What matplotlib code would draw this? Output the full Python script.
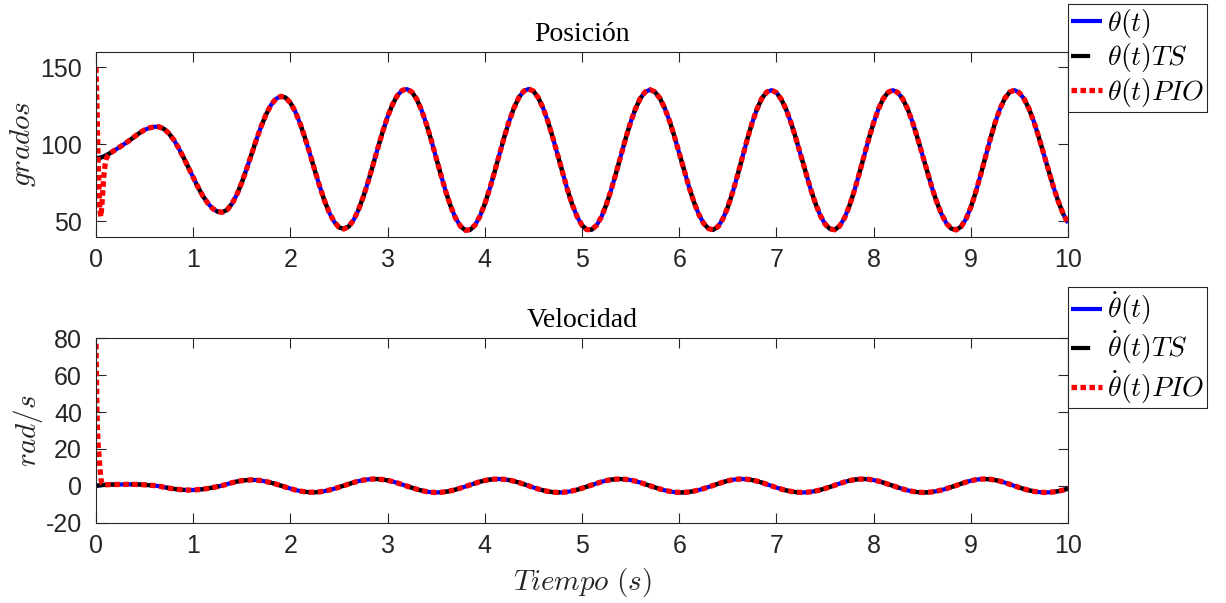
import numpy as np
import matplotlib
matplotlib.use("Agg")
import matplotlib.pyplot as plt

# ---------------- data ----------------
t = np.linspace(0, 10, 201)  # sample grid, 0.05 s

pos = [91.0, 91.4, 92.7, 94.5, 96.5, 98.5, 100.6, 102.8, 105.2, 107.5,
       109.4, 110.7, 111.4, 111.4, 110.0, 107.1, 102.9, 97.6, 91.5, 85.0,
       78.4, 72.1, 66.4, 61.8, 58.3, 56.3, 55.9, 57.5, 61.5, 67.5,
       75.2, 84.1, 93.5, 103.0, 111.8, 119.5, 125.5, 129.5, 131.2, 130.4,
       127.0, 121.3, 113.5, 104.2, 94.0, 83.3, 73.0, 63.5, 55.6, 49.7,
       46.1, 45.0, 46.6, 50.8, 57.4, 65.9, 75.8, 86.6, 97.7, 108.3,
       117.9, 125.8, 131.7, 135.1, 135.9, 134.0, 129.3, 122.1, 113.0, 102.5,
       91.1, 79.8, 69.0, 59.6, 52.0, 46.8, 44.2, 44.5, 47.6, 53.3,
       61.3, 71.1, 82.0, 93.4, 104.7, 114.9, 123.6, 130.4, 134.6, 136.0,
       134.6, 130.3, 123.6, 114.7, 104.3, 93.0, 81.5, 70.6, 60.8, 53.0,
       47.4, 44.6, 44.6, 47.4, 52.9, 60.8, 70.4, 81.3, 92.7, 104.0,
       114.3, 123.1, 129.9, 134.1, 135.5, 134.1, 130.1, 123.7, 115.3, 105.3,
       94.4, 83.3, 72.5, 62.8, 54.7, 48.8, 45.3, 44.5, 46.6, 51.6,
       59.2, 68.8, 79.9, 91.6, 103.2, 113.9, 122.9, 129.8, 134.0, 135.2,
       133.6, 129.3, 122.7, 114.1, 104.0, 93.1, 82.0, 71.4, 61.9, 54.0,
       48.3, 45.1, 44.5, 46.9, 52.1, 59.8, 69.5, 80.4, 92.0, 103.5,
       114.0, 123.0, 129.8, 133.9, 135.2, 133.6, 129.5, 123.0, 114.5, 104.5,
       93.7, 82.7, 72.0, 62.4, 54.5, 48.6, 45.2, 44.4, 46.5, 51.5,
       59.1, 68.8, 79.9, 91.6, 103.3, 114.0, 123.0, 129.9, 134.0, 135.2,
       133.5, 129.4, 122.9, 114.5, 104.6, 93.9, 83.0, 72.4, 62.9, 54.9,
       48.9]

vel = [0.0, 0.35, 0.55, 0.68, 0.72, 0.74, 0.78, 0.80, 0.79, 0.72,
       0.55, 0.35, 0.12, -0.22, -0.75, -1.24, -1.66, -1.99, -2.21, -2.30,
       -2.26, -2.09, -1.81, -1.42, -0.96, -0.44, 0.16, 0.96, 1.69, 2.32,
       2.80, 3.10, 3.20, 3.10, 2.80, 2.32, 1.69, 0.96, 0.16, -0.69,
       -1.51, -2.24, -2.83, -3.25, -3.47, -3.48, -3.28, -2.88, -2.30, -1.59,
       -0.78, 0.09, 0.98, 1.81, 2.54, 3.11, 3.50, 3.69, 3.65, 3.41,
       2.95, 2.33, 1.57, 0.72, -0.18, -1.06, -1.88, -2.58, -3.12, -3.47,
       -3.60, -3.51, -3.20, -2.70, -2.03, -1.23, -0.36, 0.55, 1.44, 2.23,
       2.89, 3.37, 3.64, 3.69, 3.51, 3.11, 2.53, 1.77, 0.92, 0.0,
       -0.90, -1.73, -2.46, -3.04, -3.42, -3.59, -3.54, -3.26, -2.77, -2.12,
       -1.33, -0.45, 0.46, 1.36, 2.17, 2.85, 3.35, 3.63, 3.69, 3.52,
       3.12, 2.53, 1.78, 0.92, 0.0, -0.87, -1.70, -2.42, -2.99, -3.39,
       -3.58, -3.56, -3.33, -2.89, -2.28, -1.54, -0.70, 0.19, 1.13, 2.00,
       2.73, 3.28, 3.61, 3.70, 3.54, 3.14, 2.53, 1.76, 0.86, -0.09,
       -0.96, -1.77, -2.48, -3.04, -3.42, -3.59, -3.55, -3.29, -2.84, -2.22,
       -1.46, -0.62, 0.28, 1.21, 2.06, 2.78, 3.31, 3.62, 3.70, 3.53,
       3.13, 2.53, 1.76, 0.87, -0.07, -0.94, -1.75, -2.46, -3.02, -3.40,
       -3.59, -3.56, -3.32, -2.88, -2.27, -1.53, -0.70, 0.19, 1.14, 2.00,
       2.74, 3.29, 3.61, 3.70, 3.53, 3.13, 2.52, 1.74, 0.84, -0.10,
       -0.96, -1.76, -2.46, -3.02, -3.40, -3.58, -3.56, -3.33, -2.90, -2.31,
       -1.57]

# PIO observer start-up transient (before it joins the other curves)
t_pio_pos = [0.0, 0.01, 0.02, 0.03, 0.04, 0.05, 0.06, 0.07, 0.08, 0.09, 0.10, 0.11]
pos_pio_start = [150.0, 125.0, 95.0, 72.0, 57.0, 53.0, 60.0, 70.0, 79.0, 85.0, 89.0, 91.5]
t_pio_vel = [0.0, 0.005, 0.01, 0.02, 0.03, 0.04, 0.05, 0.06, 0.08]
vel_pio_start = [77.0, 60.0, 40.0, 24.0, 17.0, 10.0, 4.0, 1.5, 0.6]

pos_labels = [r"$\theta(t)$", r"$\theta(t)TS$", r"$\theta(t)PIO$"]
vel_labels = [r"$\dot{\theta}(t)$", r"$\dot{\theta}(t)TS$", r"$\dot{\theta}(t)PIO$"]
xticks = list(range(0, 11))
pos_yticks = [50, 100, 150]
vel_yticks = [-20, 0, 20, 40, 60, 80]

# ---------------- styling ----------------
plt.rcParams["font.family"] = ["Liberation Sans", "DejaVu Sans"]
plt.rcParams["mathtext.fontset"] = "cm"
plt.rcParams["axes.unicode_minus"] = False
AX_COL = "#262626"

W, H = 1226, 603
fig = plt.figure(figsize=(W / 100, H / 100), dpi=100)

def frac_box(l, t_, r, b):
    return [l / W, 1 - b / H, (r - l) / W, (b - t_) / H]

ax1 = fig.add_axes(frac_box(96, 52, 1068, 236.7))
ax2 = fig.add_axes(frac_box(96, 338.3, 1068, 522.7))

t_red_pos = np.concatenate([t_pio_pos, t[3:]])
y_red_pos = np.concatenate([pos_pio_start, np.asarray(pos)[3:]])
t_red_vel = np.concatenate([t_pio_vel, t[2:]])
y_red_vel = np.concatenate([vel_pio_start, np.asarray(vel)[2:]])

LW = 3.0
LW_RED = 3.8
dash_black = (4.6, 3.8)
dot_red = (1.05, 0.65)

def draw(ax, y, tr, yr, labels):
    ax.plot(t, y, color="#0000ff", lw=LW, solid_capstyle="butt", label=labels[0])
    ax.plot(t, y, color="black", lw=LW, dashes=dash_black, dash_capstyle="butt",
            label=labels[1])
    ax.plot(tr, yr, color="#ff0000", lw=LW_RED, dashes=dot_red, dash_capstyle="butt",
            label=labels[2])

draw(ax1, pos, t_red_pos, y_red_pos, pos_labels)
draw(ax2, vel, t_red_vel, y_red_vel, vel_labels)

ax1.set_xlim(0, 10)
ax1.set_ylim(40, 160)
ax1.set_yticks(pos_yticks)
ax2.set_xlim(0, 10)
ax2.set_ylim(-20, 80)
ax2.set_yticks(vel_yticks)

for ax in (ax1, ax2):
    ax.set_xticks(xticks)
    ax.tick_params(direction="in", length=7, width=0.8, colors=AX_COL,
                   labelsize=18, top=True, right=True)
    ax.tick_params(axis="y", pad=10)
    ax.tick_params(axis="x", pad=8)
    for s in ax.spines.values():
        s.set_color(AX_COL)
        s.set_linewidth(0.8)

ax1.set_title("Posición", fontfamily="Liberation Serif", fontsize=20, pad=8)
ax2.set_title("Velocidad", fontfamily="Liberation Serif", fontsize=20, pad=8)

ax1.set_ylabel(r"$grados$", fontsize=21, color=AX_COL, va="center")
ax1.yaxis.set_label_coords(-0.075, 0.5)
ax2.set_ylabel(r"$rad/s$", fontsize=21, color=AX_COL, va="center")
ax2.yaxis.set_label_coords(-0.070, 0.5)
ax2.set_xlabel(r"$Tiempo\ (s)$", fontsize=21, color=AX_COL, va="center")
ax2.xaxis.set_label_coords(0.5, -0.325)

for ax, top in ((ax1, 4), (ax2, 287)):
    leg = ax.legend(loc="upper left", bbox_to_anchor=(1068 / W, 1 - top / H),
                    bbox_transform=fig.transFigure, borderaxespad=0,
                    fontsize=20, frameon=True, fancybox=False,
                    handlelength=1.12, handletextpad=0.18, borderpad=0.1,
                    labelspacing=0.06)
    fr = leg.get_frame()
    fr.set_edgecolor(AX_COL)
    fr.set_linewidth(0.8)
    fr.set_alpha(1)

fig.savefig("out.png", dpi=100)
